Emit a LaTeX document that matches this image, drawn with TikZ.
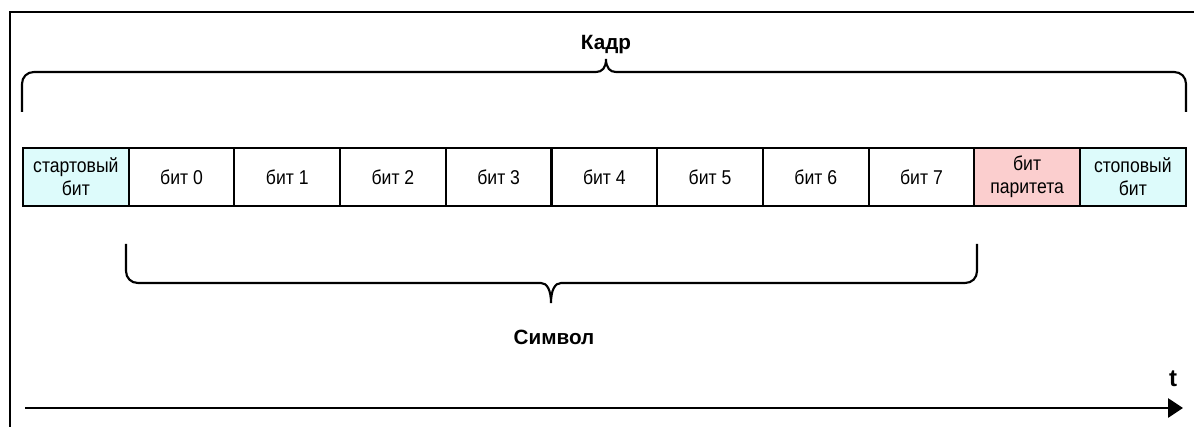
\documentclass[tikz,border=0pt]{standalone}
\usepackage{fontspec}
\setmainfont{Liberation Sans}
\newfontfamily\narrowfont[FakeStretch=0.88]{Liberation Sans}
\usetikzlibrary{arrows.meta}
\definecolor{startbit}{RGB}{221,251,251}
\definecolor{paritybit}{RGB}{251,206,206}

\begin{document}
\begin{tikzpicture}[x=0.75pt,y=-0.75pt,
  cell/.style={draw,line width=1.6pt,minimum width=79.3pt,minimum height=43.5pt,inner sep=0pt,
    align=center,font=\narrowfont\fontsize{15}{17}\selectfont},
  brace/.style={line width=1.6pt},
  caption/.style={font=\bfseries\fontsize{15.5}{18}\selectfont}]
\useasboundingbox (0,0) rectangle (1194,427);
\draw[line width=2pt] (10,427) -- (10,12) -- (1194,12);
\node[cell,fill=startbit] (start) at (75.9,177) {стартовый\\бит};
\foreach \k in {0,...,7} {\node[cell] (b\k) at ({23+105.7*(\k+1.5)},177) {бит \k};}
\node[cell,fill=paritybit] (parity) at (1027.1,177) {бит\\паритета};
\node[cell,fill=startbit] (stop) at (1132.8,177) {стоповый\\бит};
\draw[brace] (22,112) -- (22,84) .. controls (22,77) and (27,72) .. (34,72) -- (596,72)
  .. controls (602,72) and (606,68) .. (606,59) .. controls (606,68) and (610,72) .. (616,72)
  -- (1174,72) .. controls (1181,72) and (1186,77) .. (1186,84) -- (1186,112);
\node[caption] (frame) at (606,45) {Кадр};
\draw[brace] (126,244) -- (126,271) .. controls (126,278) and (131,283) .. (138,283) -- (541,283)
  .. controls (547,283) and (551,290) .. (551,303) .. controls (551,290) and (555,283) .. (561,283)
  -- (965,283) .. controls (972,283) and (977,278) .. (977,271) -- (977,244);
\node[caption] (symbol) at (554,337) {Символ};
\coordinate (origin) at (25,408);
\coordinate (tend) at (1183,408);
\draw[line width=2.2pt,-{Triangle[length=11.25pt,width=14.25pt]}] (origin) -- (tend);
\node[caption,font=\bfseries\fontsize{18}{20}\selectfont] (time) at (1173,379) {t};
\end{tikzpicture}
\end{document}
